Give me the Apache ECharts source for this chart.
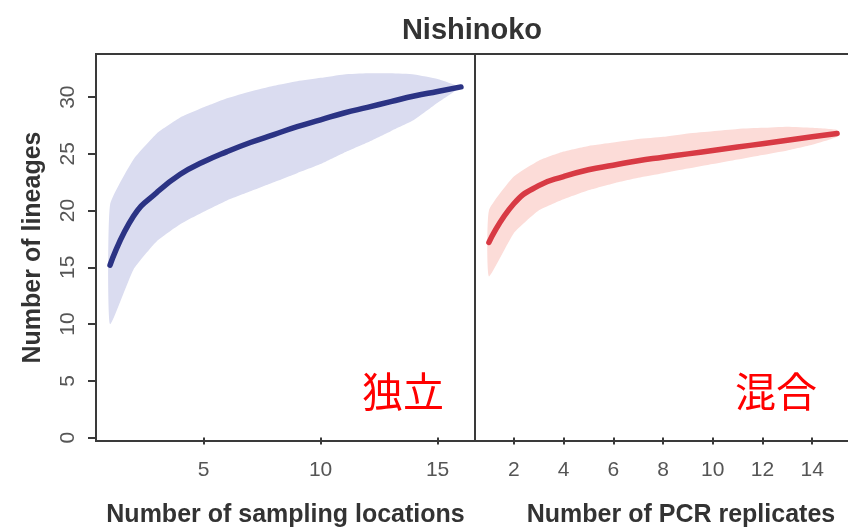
<!DOCTYPE html>
<html>
<head>
<meta charset="utf-8">
<script src="https://cdn.jsdelivr.net/npm/echarts@6/dist/echarts.min.js"></script>
<style>
html,body{margin:0;padding:0;background:#fff;}
#chart{width:848px;height:529px;}
</style>
</head>
<body>
<div id="chart"></div>
<script>
// ---- data ----
var titleText = "Nishinoko";
var yTicks = [0, 5, 10, 15, 20, 25, 30];
var locTicks = [5, 10, 15];
var pcrTicks = [2, 4, 6, 8, 10, 12, 14];

var locations = [1, 2, 3, 4, 5, 6, 7, 8, 9, 10, 11, 12, 13, 14, 15, 16];
var locMean  = [15.2, 19.5, 21.6, 23.2, 24.3, 25.2, 26.0, 26.7, 27.4, 28.0, 28.6, 29.1, 29.6, 30.1, 30.5, 30.9];
var locUpper = [20.5, 24.5, 26.8, 28.2, 29.1, 29.9, 30.5, 31.0, 31.4, 31.7, 32.0, 32.1, 32.1, 32.0, 31.6, 30.9];
var locLower = [10.0, 14.8, 17.3, 18.8, 19.9, 20.9, 21.7, 22.5, 23.3, 24.1, 25.1, 26.0, 27.0, 28.0, 29.5, 30.9];

var replicates = [1, 2, 3, 4, 5, 6, 7, 8, 9, 10, 11, 12, 13, 14, 15];
var repMean  = [17.2, 20.6, 22.2, 23.0, 23.6, 24.0, 24.4, 24.7, 25.0, 25.3, 25.6, 25.9, 26.2, 26.5, 26.8];
var repUpper = [20.0, 23.0, 24.4, 25.2, 25.7, 26.0, 26.3, 26.5, 26.8, 27.0, 27.2, 27.3, 27.4, 27.3, 27.1];
var repLower = [14.2, 18.0, 20.0, 21.0, 21.8, 22.4, 22.9, 23.3, 23.7, 24.1, 24.5, 24.9, 25.3, 25.8, 26.5];

var xNameLeft = "Number of sampling locations";
var xNameRight = "Number of PCR replicates";
var yName = "Number of lineages";
var noteLeft = "独立";
var noteRight = "混合";

// ---- build ----
function pairs(xs, ys) { return xs.map(function (x, i) { return [x, ys[i]]; }); }
function bandRows(xs, up, lo) { return xs.map(function (x, i) { return [x, lo[i], up[i]]; }); }

// band polygon drawn through the library's coordinate system (api.coord)
function bandSeries(axisIdx, rows, color) {
  return {
    type: 'custom', xAxisIndex: axisIdx, yAxisIndex: axisIdx, silent: true, z: 1, clip: true,
    encode: {x: 0, y: [1, 2]},
    data: rows,
    renderItem: function (params, api) {
      if (params.dataIndex !== 0) return null;
      var top = [], bottom = [];
      for (var i = 0; i < rows.length; i++) {
        top.push(api.coord([rows[i][0], rows[i][2]]));
        bottom.push(api.coord([rows[i][0], rows[i][1]]));
      }
      return {
        type: 'polygon',
        shape: {points: top.concat(bottom.reverse()), smooth: 0.15},
        style: {fill: color, stroke: null}
      };
    }
  };
}

var FONT = "Liberation Sans, Arial, sans-serif";
var borderColor = "#3a3a3a";

var chart = echarts.init(document.getElementById('chart'), null, {renderer: 'canvas'});

var commonX = {
  type: 'value',
  axisLine: {show: false},
  splitLine: {show: false},
  axisTick: {show: true, length: 7, lineStyle: {color: borderColor, width: 2}},
  axisLabel: {color: '#555', fontSize: 21, fontFamily: FONT, margin: 19},
  nameLocation: 'middle',
  nameGap: 62,
  nameTextStyle: {color: '#333', fontSize: 25, fontWeight: 'bold', fontFamily: FONT}
};

var gridCommon = {top: 54, height: 387, show: true, borderColor: borderColor, borderWidth: 2,
  backgroundColor: 'transparent', containLabel: false, outerBoundsMode: 'none'};

var option = {
  animation: false,
  backgroundColor: '#fff',
  title: {
    text: titleText,
    left: 467,
    textAlign: 'center',
    top: 11,
    textStyle: {color: '#333', fontSize: 29, fontWeight: 'bold', fontFamily: FONT}
  },
  grid: [
    Object.assign({left: 96, width: 379}, gridCommon),
    Object.assign({left: 475, width: 376}, gridCommon)
  ],
  xAxis: [
    Object.assign({}, commonX, {
      gridIndex: 0, min: 0.4, max: 16.6, name: xNameLeft,
      axisTick: Object.assign({}, commonX.axisTick, {customValues: locTicks}),
      axisLabel: Object.assign({}, commonX.axisLabel, {customValues: locTicks})
    }),
    Object.assign({}, commonX, {
      gridIndex: 1, min: 0.44, max: 15.56, name: xNameRight,
      nameTextStyle: Object.assign({}, commonX.nameTextStyle, {padding: [0, 0, 0, 36]}),
      axisTick: Object.assign({}, commonX.axisTick, {customValues: pcrTicks}),
      axisLabel: Object.assign({}, commonX.axisLabel, {customValues: pcrTicks})
    })
  ],
  yAxis: [
    {
      type: 'value', gridIndex: 0, min: -0.3, max: 33.8,
      axisLine: {show: false}, splitLine: {show: false},
      axisTick: {show: true, length: 8, customValues: yTicks, lineStyle: {color: borderColor, width: 2}},
      axisLabel: {customValues: yTicks, rotate: 90, color: '#555', fontSize: 21, fontFamily: FONT, margin: 17},
      name: yName, nameLocation: 'middle', nameGap: 50,
      nameTextStyle: {color: '#333', fontSize: 25, fontWeight: 'bold', fontFamily: FONT}
    },
    {
      type: 'value', gridIndex: 1, min: -0.3, max: 33.8,
      axisLine: {show: false}, splitLine: {show: false},
      axisTick: {show: false}, axisLabel: {show: false}
    }
  ],
  series: [
    bandSeries(0, bandRows(locations, locUpper, locLower), '#dadcf0'),
    {type: 'line', xAxisIndex: 0, yAxisIndex: 0, smooth: true, showSymbol: false, silent: true,
     lineStyle: {color: '#2b3384', width: 5.5, cap: 'round'}, data: pairs(locations, locMean), z: 3},

    bandSeries(1, bandRows(replicates, repUpper, repLower), '#fcdcd8'),
    {type: 'line', xAxisIndex: 1, yAxisIndex: 1, smooth: true, showSymbol: false, silent: true,
     lineStyle: {color: '#d83a44', width: 5.5, cap: 'round'}, data: pairs(replicates, repMean), z: 3}
  ],
  graphic: [
    {type: 'text', left: 362, top: 371, z: 10,
     style: {text: noteLeft, fill: '#ff0000', fontSize: 41, fontFamily: 'Noto Sans CJK JP, sans-serif'}},
    {type: 'text', left: 735, top: 371, z: 10,
     style: {text: noteRight, fill: '#ff0000', fontSize: 41, fontFamily: 'Noto Sans CJK JP, sans-serif'}}
  ]
};
chart.setOption(option);
</script>
</body>
</html>
